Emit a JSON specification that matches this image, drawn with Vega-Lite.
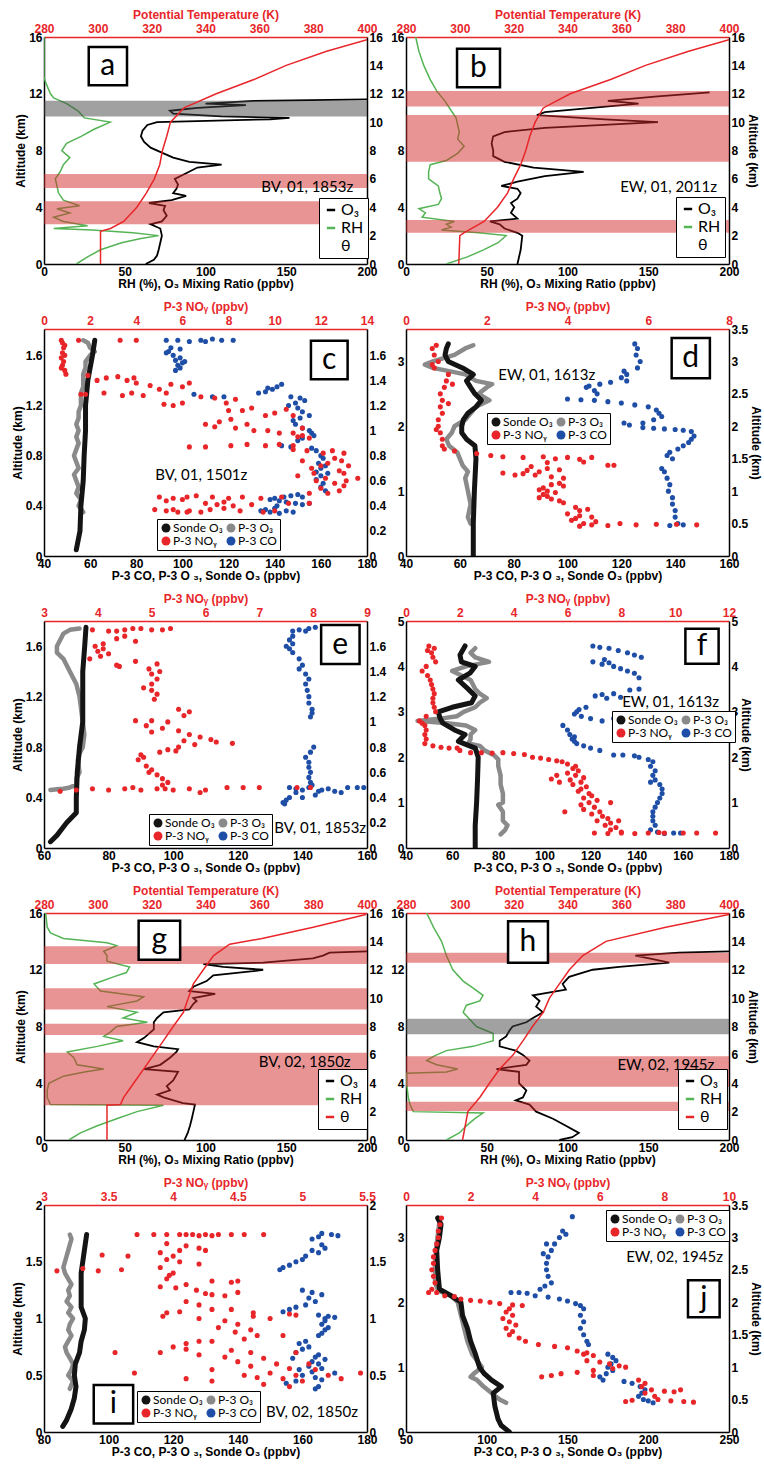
{
"$schema": "https://vega.github.io/schema/vega-lite/v6.json",
"background": "white",
"padding": {"left": 11, "top": 8, "right": 0, "bottom": 2},
"config": {
  "view": {"stroke": null},
  "axis": {"labelFont": "Liberation Sans", "labelFontWeight": "bold", "labelFontSize": 12, "labelColor": "#000", "titleFont": "Liberation Sans", "titleFontWeight": "bold", "titleFontSize": 12, "titleColor": "#000", "domainColor": "#000", "domainWidth": 1.5, "ticks": false, "grid": false, "labelPadding": 2, "titlePadding": 1, "labelFlush": false, "labelOverlap": false, "format": ".2~f"},
  "text": {"font": "Lato", "color": "#000"}
},
"columns": 2,
"spacing": {"row": 65, "column": 39},
"bounds": "flush",
"resolve": {"scale": {"color": "independent"}, "legend": {"color": "independent"}},
"concat": [
{"width": 323, "height": 227, "resolve": {"scale": {"x": "independent", "y": "independent"}},
 "layer": [
  {"layer": [
    {"data": {"values": [{"alt":0,"v":20},{"alt":0.5,"v":27},{"alt":1.0,"v":35},{"alt":1.5,"v":48},{"alt":1.8,"v":60},{"alt":2.0,"v":71},{"alt":2.2,"v":55},{"alt":2.4,"v":30},{"alt":2.5,"v":6},{"alt":2.7,"v":27},{"alt":3.0,"v":12},{"alt":3.3,"v":6},{"alt":3.6,"v":16},{"alt":3.9,"v":8},{"alt":4.1,"v":22},{"alt":4.5,"v":12},{"alt":5.0,"v":9},{"alt":5.5,"v":8},{"alt":6.0,"v":7},{"alt":6.5,"v":10},{"alt":7.0,"v":12},{"alt":7.5,"v":16},{"alt":8.0,"v":11},{"alt":8.5,"v":14},{"alt":9.0,"v":23},{"alt":9.5,"v":31},{"alt":10.0,"v":41},{"alt":10.3,"v":25},{"alt":10.8,"v":21},{"alt":11.3,"v":14},{"alt":11.7,"v":6},{"alt":12.0,"v":4},{"alt":12.8,"v":1},{"alt":13.2,"v":0},{"alt":16,"v":0}]},
     "mark": {"type": "line", "color": "#55b455", "strokeWidth": 1.5, "clip": true},
     "encoding": {"x": {"field": "v", "type": "quantitative", "scale": {"domain": [0,200], "nice": false, "zero": false}, "axis": {"title": "RH (%), O₃ Mixing Ratio (ppbv)", "values": [0,50,100,150,200]}},
                  "y": {"field": "alt", "type": "quantitative", "scale": {"domain": [0,16], "nice": false, "zero": false}, "axis": {"title": "Altitude (km)", "values": [0,2,4,6,8,10,12,14,16]}},
                  "order": {"field": "alt", "type": "quantitative"}}},
    {"data": {"values": [{"alt":0,"v":63},{"alt":0.3,"v":68},{"alt":0.6,"v":70},{"alt":1.0,"v":71},{"alt":1.5,"v":72},{"alt":2.0,"v":73},{"alt":2.5,"v":72},{"alt":2.8,"v":66},{"alt":3.0,"v":73},{"alt":3.4,"v":76},{"alt":3.8,"v":74},{"alt":4.1,"v":75},{"alt":4.3,"v":65},{"alt":4.5,"v":79},{"alt":4.8,"v":88},{"alt":5.0,"v":80},{"alt":5.3,"v":82},{"alt":5.6,"v":83},{"alt":6.0,"v":81},{"alt":6.4,"v":88},{"alt":6.8,"v":95},{"alt":7.0,"v":110},{"alt":7.2,"v":90},{"alt":7.5,"v":80},{"alt":7.8,"v":74},{"alt":8.2,"v":66},{"alt":8.6,"v":62},{"alt":9.0,"v":60},{"alt":9.4,"v":61},{"alt":9.8,"v":64},{"alt":10.0,"v":70},{"alt":10.2,"v":140},{"alt":10.3,"v":152},{"alt":10.4,"v":110},{"alt":10.6,"v":80},{"alt":10.8,"v":78},{"alt":11.0,"v":95},{"alt":11.2,"v":125},{"alt":11.3,"v":100},{"alt":11.5,"v":130},{"alt":11.6,"v":200}]},
     "mark": {"type": "line", "strokeWidth": 1.8, "clip": true},
     "encoding": {"x": {"field": "v", "type": "quantitative"}, "y": {"field": "alt", "type": "quantitative"}, "order": {"field": "alt", "type": "quantitative"},
                  "color": {"datum": "O₃", "scale": {"domain": ["O₃","RH","θ"], "range": ["#000000","#55b455","#ffffff"]},
                            "legend": {"title": null, "orient": "none", "legendX": 275, "legendY": 161, "symbolType": "stroke", "symbolSize": 70, "symbolStrokeWidth": 2.5, "labelFont": "Lato", "labelFontSize": 16, "labelColor": "#000", "strokeColor": "#000", "fillColor": "#fff", "padding": 4, "rowPadding": 2, "labelOffset": 2}}}},
    {"data": {"values": [{"alt":5.35,"top":6.35},{"alt":2.8,"top":4.42}]}, "mark": {"type": "rect", "color": "#d42a2a", "opacity": 0.5},
     "encoding": {"y": {"field": "alt", "type": "quantitative"}, "y2": {"field": "top"}}},
    {"data": {"values": [{"alt":10.4,"top":11.5}]}, "mark": {"type": "rect", "color": "#444444", "opacity": 0.5},
     "encoding": {"y": {"field": "alt", "type": "quantitative"}, "y2": {"field": "top"}}},
    {"data": {"values": [{"v":27.7,"v2":51.4,"alt":12.6,"top":15.3}]}, "mark": {"type": "rect", "fill": "white", "stroke": "black", "strokeWidth": 2.5},
     "encoding": {"x": {"field": "v", "type": "quantitative"}, "x2": {"field": "v2"}, "y": {"field": "alt", "type": "quantitative"}, "y2": {"field": "top"}}},
    {"data": {"values": [{"v":39.5,"alt":13.95,"t":"a"}]}, "mark": {"type": "text", "fontSize": 30, "baseline": "middle"},
     "encoding": {"x": {"field": "v", "type": "quantitative"}, "y": {"field": "alt", "type": "quantitative"}, "text": {"field": "t"}}},
    {"data": {"values": [{"v":163,"alt":5.4,"t":"BV, 01, 1853z"}]}, "mark": {"type": "text", "fontSize": 15, "baseline": "middle"},
     "encoding": {"x": {"field": "v", "type": "quantitative"}, "y": {"field": "alt", "type": "quantitative"}, "text": {"field": "t"}}}
  ]},
  {"data": {"values": [{"alt":0,"v":301},{"alt":2.3,"v":301},{"alt":2.5,"v":304.7},{"alt":3,"v":309.6},{"alt":4,"v":314.5},{"alt":5,"v":318},{"alt":6,"v":321},{"alt":7,"v":323},{"alt":8,"v":324},{"alt":9,"v":325.6},{"alt":10,"v":327},{"alt":11,"v":332},{"alt":12,"v":344},{"alt":13,"v":358},{"alt":14,"v":370},{"alt":15,"v":385},{"alt":15.8,"v":400}]},
   "mark": {"type": "line", "color": "#e8262a", "strokeWidth": 1.5, "clip": true},
   "encoding": {"x": {"field": "v", "type": "quantitative", "scale": {"domain": [280,400], "nice": false, "zero": false}, "axis": {"orient": "top", "title": "Potential Temperature (K)", "values": [280,300,320,340,360,380,400], "labelColor": "#e8262a", "titleColor": "#e8262a", "domainColor": "#e8262a"}},
                "y": {"field": "alt", "type": "quantitative", "scale": {"domain": [0,16], "nice": false, "zero": false}, "axis": {"orient": "right", "title": null, "values": [0,2,4,6,8,10,12,14,16]}},
                "order": {"field": "alt", "type": "quantitative"}}}
 ]},
{"width": 323, "height": 227, "resolve": {"scale": {"x": "independent", "y": "independent"}},
 "layer": [
  {"layer": [
    {"data": {"values": [{"alt":0,"v":25},{"alt":0.5,"v":38},{"alt":1,"v":48},{"alt":1.5,"v":57},{"alt":2,"v":62},{"alt":2.2,"v":45},{"alt":2.4,"v":22},{"alt":2.6,"v":28},{"alt":2.8,"v":25},{"alt":3.0,"v":30},{"alt":3.3,"v":10},{"alt":3.6,"v":12},{"alt":3.9,"v":8},{"alt":4.2,"v":20},{"alt":4.6,"v":22},{"alt":5.0,"v":21},{"alt":5.5,"v":20},{"alt":6.0,"v":14},{"alt":6.5,"v":14},{"alt":7.0,"v":15},{"alt":7.3,"v":25},{"alt":7.8,"v":32},{"alt":8.3,"v":36},{"alt":8.8,"v":32},{"alt":9.3,"v":33},{"alt":9.8,"v":32},{"alt":10.3,"v":31},{"alt":10.8,"v":28},{"alt":11.5,"v":24},{"alt":12.2,"v":19},{"alt":13,"v":15},{"alt":14,"v":11},{"alt":15,"v":8},{"alt":16,"v":6}]},
     "mark": {"type": "line", "color": "#55b455", "strokeWidth": 1.5, "clip": true},
     "encoding": {"x": {"field": "v", "type": "quantitative", "scale": {"domain": [0,200], "nice": false, "zero": false}, "axis": {"title": "RH (%), O₃ Mixing Ratio (ppbv)", "values": [0,50,100,150,200]}},
                  "y": {"field": "alt", "type": "quantitative", "scale": {"domain": [0,16], "nice": false, "zero": false}, "axis": {"title": null, "values": [0,2,4,6,8,10,12,14,16]}},
                  "order": {"field": "alt", "type": "quantitative"}}},
    {"data": {"values": [{"alt":0,"v":69},{"alt":1,"v":71},{"alt":2,"v":72},{"alt":2.2,"v":69},{"alt":2.5,"v":61},{"alt":2.8,"v":58},{"alt":3.0,"v":52},{"alt":3.2,"v":69},{"alt":3.6,"v":65},{"alt":4.0,"v":67},{"alt":4.3,"v":65},{"alt":4.6,"v":69},{"alt":5.0,"v":71},{"alt":5.3,"v":69},{"alt":5.5,"v":59},{"alt":5.8,"v":69},{"alt":6.2,"v":86},{"alt":6.5,"v":110},{"alt":6.8,"v":79},{"alt":7.2,"v":61},{"alt":7.6,"v":54},{"alt":8.0,"v":54},{"alt":8.5,"v":53},{"alt":9.0,"v":54},{"alt":9.3,"v":61},{"alt":9.6,"v":86},{"alt":10.0,"v":156},{"alt":10.2,"v":123},{"alt":10.5,"v":81},{"alt":10.7,"v":86},{"alt":11.0,"v":115},{"alt":11.3,"v":144},{"alt":11.5,"v":125},{"alt":11.8,"v":154},{"alt":12.1,"v":188}]},
     "mark": {"type": "line", "strokeWidth": 1.8, "clip": true},
     "encoding": {"x": {"field": "v", "type": "quantitative"}, "y": {"field": "alt", "type": "quantitative"}, "order": {"field": "alt", "type": "quantitative"},
                  "color": {"datum": "O₃", "scale": {"domain": ["O₃","RH","θ"], "range": ["#000000","#55b455","#ffffff"]},
                            "legend": {"title": null, "orient": "none", "legendX": 270, "legendY": 160, "symbolType": "stroke", "symbolSize": 70, "symbolStrokeWidth": 2.5, "labelFont": "Lato", "labelFontSize": 16, "labelColor": "#000", "strokeColor": "#000", "fillColor": "#fff", "padding": 4, "rowPadding": 2, "labelOffset": 2}}}},
    {"data": {"values": [{"alt":11.1,"top":12.2},{"alt":7.2,"top":10.5},{"alt":2.2,"top":3.1}]}, "mark": {"type": "rect", "color": "#d42a2a", "opacity": 0.5},
     "encoding": {"y": {"field": "alt", "type": "quantitative"}, "y2": {"field": "top"}}},
    {"data": {"values": [{"v":31.6,"v2":58.2,"alt":12.46,"top":15.18}]}, "mark": {"type": "rect", "fill": "white", "stroke": "black", "strokeWidth": 2.5},
     "encoding": {"x": {"field": "v", "type": "quantitative"}, "x2": {"field": "v2"}, "y": {"field": "alt", "type": "quantitative"}, "y2": {"field": "top"}}},
    {"data": {"values": [{"v":44.9,"alt":13.82,"t":"b"}]}, "mark": {"type": "text", "fontSize": 30, "baseline": "middle"},
     "encoding": {"x": {"field": "v", "type": "quantitative"}, "y": {"field": "alt", "type": "quantitative"}, "text": {"field": "t"}}},
    {"data": {"values": [{"v":162.6,"alt":5.4,"t":"EW, 01, 2011z"}]}, "mark": {"type": "text", "fontSize": 15, "baseline": "middle"},
     "encoding": {"x": {"field": "v", "type": "quantitative"}, "y": {"field": "alt", "type": "quantitative"}, "text": {"field": "t"}}}
  ]},
  {"data": {"values": [{"alt":0,"v":299.6},{"alt":2,"v":300},{"alt":2.2,"v":301.5},{"alt":3,"v":309},{"alt":4,"v":314},{"alt":5,"v":317.7},{"alt":6,"v":320},{"alt":7,"v":322.6},{"alt":8,"v":324.5},{"alt":9,"v":326},{"alt":10,"v":328},{"alt":11,"v":331},{"alt":12,"v":341},{"alt":13,"v":356},{"alt":14,"v":369},{"alt":15,"v":385},{"alt":15.8,"v":400}]},
   "mark": {"type": "line", "color": "#e8262a", "strokeWidth": 1.5, "clip": true},
   "encoding": {"x": {"field": "v", "type": "quantitative", "scale": {"domain": [280,400], "nice": false, "zero": false}, "axis": {"orient": "top", "title": "Potential Temperature (K)", "values": [280,300,320,340,360,380,400], "labelColor": "#e8262a", "titleColor": "#e8262a", "domainColor": "#e8262a"}},
                "y": {"field": "alt", "type": "quantitative", "scale": {"domain": [0,16], "nice": false, "zero": false}, "axis": {"orient": "right", "title": "Altitude (km)", "values": [0,2,4,6,8,10,12,14,16]}},
                "order": {"field": "alt", "type": "quantitative"}}}
 ]},
{"width": 323, "height": 227, "resolve": {"scale": {"x": "independent", "y": "independent"}},
 "layer": [
  {"layer": [
    {"data": {"values": [{"alt":1.72,"v":93},{"alt":1.72,"v":98},{"alt":1.71,"v":103},{"alt":1.72,"v":108},{"alt":1.73,"v":113},{"alt":1.72,"v":117},{"alt":1.72,"v":122},{"alt":1.71,"v":110},{"alt":1.66,"v":95},{"alt":1.63,"v":94},{"alt":1.6,"v":96},{"alt":1.58,"v":99},{"alt":1.56,"v":97},{"alt":1.54,"v":100},{"alt":1.52,"v":98},{"alt":1.5,"v":99},{"alt":1.48,"v":97},{"alt":1.62,"v":93},{"alt":1.55,"v":101},{"alt":1.65,"v":99},{"alt":1.29,"v":105},{"alt":1.27,"v":113},{"alt":1.27,"v":118},{"alt":1.37,"v":143},{"alt":1.35,"v":141},{"alt":1.33,"v":139},{"alt":1.31,"v":136},{"alt":1.3,"v":133},{"alt":1.34,"v":137},{"alt":1.27,"v":147},{"alt":1.26,"v":151},{"alt":1.24,"v":153},{"alt":1.22,"v":149},{"alt":1.2,"v":146},{"alt":1.18,"v":150},{"alt":1.15,"v":152},{"alt":1.12,"v":155},{"alt":1.1,"v":151},{"alt":1.08,"v":148},{"alt":1.05,"v":149},{"alt":1.02,"v":152},{"alt":1.0,"v":155},{"alt":0.98,"v":156},{"alt":0.96,"v":157},{"alt":0.94,"v":152},{"alt":0.92,"v":150},{"alt":0.88,"v":143},{"alt":0.87,"v":147},{"alt":0.86,"v":156},{"alt":0.84,"v":158},{"alt":0.8,"v":160},{"alt":0.78,"v":161},{"alt":0.74,"v":159},{"alt":0.7,"v":160},{"alt":0.67,"v":158},{"alt":0.64,"v":160},{"alt":0.61,"v":158},{"alt":0.58,"v":161},{"alt":0.55,"v":160},{"alt":0.52,"v":162},{"alt":0.72,"v":162},{"alt":0.66,"v":163},{"alt":0.49,"v":150},{"alt":0.48,"v":147},{"alt":0.47,"v":144},{"alt":0.46,"v":140},{"alt":0.45,"v":138},{"alt":0.44,"v":142},{"alt":0.47,"v":152},{"alt":0.43,"v":145},{"alt":0.42,"v":149},{"alt":0.41,"v":152},{"alt":0.42,"v":155},{"alt":0.4,"v":141},{"alt":0.37,"v":136},{"alt":0.36,"v":134},{"alt":0.35,"v":138},{"alt":0.34,"v":142},{"alt":0.36,"v":145},{"alt":0.35,"v":148},{"alt":0.38,"v":140}]},
     "mark": {"type": "circle", "size": 26, "opacity": 1, "clip": true},
     "encoding": {"x": {"field": "v", "type": "quantitative", "scale": {"domain": [40,180], "nice": false, "zero": false}, "axis": {"title": "P-3 CO, P-3 O ₃, Sonde O₃ (ppbv)", "values": [40,60,80,100,120,140,160,180]}},
                  "y": {"field": "alt", "type": "quantitative", "scale": {"domain": [0,1.81], "nice": false, "zero": false}, "axis": {"title": "Altitude (km)", "values": [0,0.2,0.4,0.6,0.8,1,1.2,1.4,1.6]}},
                  "color": {"datum": "P-3 CO", "scale": {"domain": ["Sonde O₃","P-3 NOᵧ","P-3 O₃","P-3 CO"], "range": ["#141414","#e8262a","#8a8a8a","#1f4ea6"]},
                            "legend": {"title": null, "orient": "none", "legendX": 113, "legendY": 190, "columns": 2, "symbolType": "circle", "symbolSize": 80, "symbolOpacity": 1, "labelFont": "Lato", "labelFontSize": 12, "labelColor": "#000", "strokeColor": "#000", "fillColor": "#fff", "padding": 3, "rowPadding": 1, "columnPadding": 2, "labelOffset": 1}}}},
    {"data": {"values": [{"alt":0.35,"v":57},{"alt":0.4,"v":55},{"alt":0.45,"v":56},{"alt":0.5,"v":54},{"alt":0.55,"v":55},{"alt":0.6,"v":54},{"alt":0.65,"v":53},{"alt":0.7,"v":55},{"alt":0.75,"v":54},{"alt":0.8,"v":53},{"alt":0.85,"v":54},{"alt":0.9,"v":55},{"alt":0.95,"v":54},{"alt":1.0,"v":55},{"alt":1.05,"v":54},{"alt":1.1,"v":55},{"alt":1.15,"v":55},{"alt":1.2,"v":56},{"alt":1.25,"v":56},{"alt":1.3,"v":56},{"alt":1.35,"v":57},{"alt":1.4,"v":57},{"alt":1.45,"v":57},{"alt":1.5,"v":58},{"alt":1.55,"v":58},{"alt":1.6,"v":60},{"alt":1.63,"v":62},{"alt":1.66,"v":60},{"alt":1.7,"v":59},{"alt":1.72,"v":57}]},
     "mark": {"type": "line", "color": "#8a8a8a", "strokeWidth": 4.5, "strokeCap": "round", "strokeJoin": "round", "clip": true},
     "encoding": {"x": {"field": "v", "type": "quantitative"}, "y": {"field": "alt", "type": "quantitative"}, "order": {"field": "alt", "type": "quantitative"}}},
    {"data": {"values": [{"alt":0.05,"v":54},{"alt":0.2,"v":55.6},{"alt":0.4,"v":56},{"alt":0.6,"v":57},{"alt":0.8,"v":57.4},{"alt":1.0,"v":58},{"alt":1.2,"v":58},{"alt":1.4,"v":59},{"alt":1.6,"v":61},{"alt":1.72,"v":62}]},
     "mark": {"type": "line", "color": "#141414", "strokeWidth": 5, "strokeCap": "round", "strokeJoin": "round", "clip": true},
     "encoding": {"x": {"field": "v", "type": "quantitative"}, "y": {"field": "alt", "type": "quantitative"}, "order": {"field": "alt", "type": "quantitative"}}},
    {"data": {"values": [{"v":155.7,"v2":171.6,"alt":1.41,"top":1.716}]}, "mark": {"type": "rect", "fill": "white", "stroke": "black", "strokeWidth": 2.5},
     "encoding": {"x": {"field": "v", "type": "quantitative"}, "x2": {"field": "v2"}, "y": {"field": "alt", "type": "quantitative"}, "y2": {"field": "top"}}},
    {"data": {"values": [{"v":163.6,"alt":1.563,"t":"c"}]}, "mark": {"type": "text", "fontSize": 30, "baseline": "middle"},
     "encoding": {"x": {"field": "v", "type": "quantitative"}, "y": {"field": "alt", "type": "quantitative"}, "text": {"field": "t"}}},
    {"data": {"values": [{"v":108.2,"alt":0.642,"t":"BV, 01, 1501z"}]}, "mark": {"type": "text", "fontSize": 15, "baseline": "middle"},
     "encoding": {"x": {"field": "v", "type": "quantitative"}, "y": {"field": "alt", "type": "quantitative"}, "text": {"field": "t"}}}
  ]},
  {"data": {"values": [{"alt":1.72,"v":0.75},{"alt":1.7,"v":0.8},{"alt":1.66,"v":0.85},{"alt":1.62,"v":0.8},{"alt":1.58,"v":0.75},{"alt":1.55,"v":0.85},{"alt":1.52,"v":0.8},{"alt":1.48,"v":0.9},{"alt":1.45,"v":0.95},{"alt":1.68,"v":0.9},{"alt":1.6,"v":0.9},{"alt":1.5,"v":0.75},{"alt":1.72,"v":1.5},{"alt":1.72,"v":3.3},{"alt":1.72,"v":4.0},{"alt":1.44,"v":1.9},{"alt":1.29,"v":1.6},{"alt":1.29,"v":1.8},{"alt":1.4,"v":2.3},{"alt":1.42,"v":2.7},{"alt":1.43,"v":3.2},{"alt":1.4,"v":3.6},{"alt":1.42,"v":3.9},{"alt":1.38,"v":4.0},{"alt":1.3,"v":2.6},{"alt":1.28,"v":3.4},{"alt":1.3,"v":3.8},{"alt":1.36,"v":4.6},{"alt":1.33,"v":5.0},{"alt":1.3,"v":5.3},{"alt":1.37,"v":5.5},{"alt":1.35,"v":6.0},{"alt":1.38,"v":6.3},{"alt":1.28,"v":4.3},{"alt":1.21,"v":5.2},{"alt":1.2,"v":5.6},{"alt":1.22,"v":6.0},{"alt":1.27,"v":6.8},{"alt":1.26,"v":7.4},{"alt":1.22,"v":7.9},{"alt":1.25,"v":8.3},{"alt":1.18,"v":9.0},{"alt":1.16,"v":8.0},{"alt":1.16,"v":8.6},{"alt":1.12,"v":9.6},{"alt":1.14,"v":10.0},{"alt":1.17,"v":10.5},{"alt":1.12,"v":10.8},{"alt":1.05,"v":7.0},{"alt":1.07,"v":7.6},{"alt":1.09,"v":8.1},{"alt":1.03,"v":7.4},{"alt":1.02,"v":8.3},{"alt":1.0,"v":9.1},{"alt":1.05,"v":8.8},{"alt":1.0,"v":9.7},{"alt":0.98,"v":10.2},{"alt":0.98,"v":10.8},{"alt":0.96,"v":11.2},{"alt":0.94,"v":11.5},{"alt":0.95,"v":11.0},{"alt":1.02,"v":11.2},{"alt":0.87,"v":6.3},{"alt":0.87,"v":7.0},{"alt":0.88,"v":8.1},{"alt":0.89,"v":8.8},{"alt":0.88,"v":9.6},{"alt":0.89,"v":10.2},{"alt":0.88,"v":10.8},{"alt":0.85,"v":10.8},{"alt":0.84,"v":11.4},{"alt":0.82,"v":12.1},{"alt":0.84,"v":12.5},{"alt":0.82,"v":13.0},{"alt":0.78,"v":12.6},{"alt":0.76,"v":11.2},{"alt":0.74,"v":12.3},{"alt":0.72,"v":13.2},{"alt":0.7,"v":11.6},{"alt":0.68,"v":12.8},{"alt":0.66,"v":13.0},{"alt":0.64,"v":11.0},{"alt":0.62,"v":12.2},{"alt":0.62,"v":13.6},{"alt":0.6,"v":11.8},{"alt":0.58,"v":12.6},{"alt":0.56,"v":13.0},{"alt":0.54,"v":12.0},{"alt":0.52,"v":12.8},{"alt":0.5,"v":11.5},{"alt":0.5,"v":12.3},{"alt":0.76,"v":12.9},{"alt":0.66,"v":11.7},{"alt":0.6,"v":13.1},{"alt":0.72,"v":12.0},{"alt":0.47,"v":5.0},{"alt":0.46,"v":5.6},{"alt":0.47,"v":6.2},{"alt":0.48,"v":6.6},{"alt":0.47,"v":7.3},{"alt":0.46,"v":8.0},{"alt":0.47,"v":8.6},{"alt":0.46,"v":9.4},{"alt":0.47,"v":10.3},{"alt":0.44,"v":5.3},{"alt":0.45,"v":6.0},{"alt":0.42,"v":7.0},{"alt":0.41,"v":7.5},{"alt":0.4,"v":8.2},{"alt":0.43,"v":7.8},{"alt":0.41,"v":9.0},{"alt":0.42,"v":10.6},{"alt":0.42,"v":11.5},{"alt":0.37,"v":4.8},{"alt":0.36,"v":5.3},{"alt":0.35,"v":5.8},{"alt":0.36,"v":6.3},{"alt":0.35,"v":6.8},{"alt":0.37,"v":7.2},{"alt":0.38,"v":7.8},{"alt":0.36,"v":8.5},{"alt":0.35,"v":9.5},{"alt":0.36,"v":10.0},{"alt":0.37,"v":5.6},{"alt":0.35,"v":6.2}]},
   "mark": {"type": "circle", "size": 26, "opacity": 1, "clip": true},
   "encoding": {"x": {"field": "v", "type": "quantitative", "scale": {"domain": [0,14], "nice": false, "zero": false}, "axis": {"orient": "top", "title": "P-3 NOᵧ (ppbv)", "values": [0,2,4,6,8,10,12,14], "labelColor": "#e8262a", "titleColor": "#e8262a", "domainColor": "#e8262a"}},
                "y": {"field": "alt", "type": "quantitative", "scale": {"domain": [0,1.81], "nice": false, "zero": false}, "axis": {"orient": "right", "title": null, "values": [0,0.2,0.4,0.6,0.8,1,1.2,1.4,1.6]}},
                "color": {"datum": "P-3 NOᵧ"}}}
 ]},
{"width": 323, "height": 227, "resolve": {"scale": {"x": "independent", "y": "independent"}},
 "layer": [
  {"layer": [
    {"data": {"values": [{"alt":3.27,"v":125},{"alt":3.2,"v":126},{"alt":3.1,"v":125.5},{"alt":3.0,"v":127},{"alt":2.9,"v":126},{"alt":2.85,"v":121},{"alt":2.8,"v":122},{"alt":2.75,"v":120},{"alt":2.7,"v":122},{"alt":2.68,"v":116},{"alt":2.65,"v":112},{"alt":2.62,"v":108},{"alt":2.6,"v":107},{"alt":2.55,"v":110},{"alt":2.5,"v":111},{"alt":2.42,"v":100},{"alt":2.41,"v":105},{"alt":2.4,"v":110},{"alt":2.38,"v":115},{"alt":2.36,"v":120},{"alt":2.33,"v":125},{"alt":2.3,"v":130},{"alt":2.25,"v":133},{"alt":2.2,"v":134},{"alt":2.15,"v":135},{"alt":2.1,"v":132},{"alt":2.05,"v":128},{"alt":2.02,"v":123},{"alt":2.05,"v":121},{"alt":1.98,"v":128},{"alt":1.97,"v":132},{"alt":1.96,"v":136},{"alt":1.95,"v":140},{"alt":1.94,"v":143},{"alt":1.92,"v":146},{"alt":1.85,"v":147},{"alt":1.8,"v":146},{"alt":1.75,"v":145},{"alt":1.7,"v":143},{"alt":1.65,"v":141},{"alt":1.6,"v":138},{"alt":1.55,"v":137},{"alt":1.5,"v":139},{"alt":1.35,"v":135},{"alt":1.3,"v":136},{"alt":1.2,"v":137},{"alt":1.1,"v":138},{"alt":1.0,"v":137.5},{"alt":0.9,"v":139},{"alt":0.8,"v":139},{"alt":0.7,"v":140},{"alt":0.6,"v":140},{"alt":0.5,"v":141},{"alt":0.48,"v":143},{"alt":0.47,"v":138}]},
     "mark": {"type": "circle", "size": 26, "opacity": 1, "clip": true},
     "encoding": {"x": {"field": "v", "type": "quantitative", "scale": {"domain": [40,160], "nice": false, "zero": false}, "axis": {"title": "P-3 CO, P-3 O ₃, Sonde O₃ (ppbv)", "values": [40,60,80,100,120,140,160]}},
                  "y": {"field": "alt", "type": "quantitative", "scale": {"domain": [0,3.5], "nice": false, "zero": false}, "axis": {"title": null, "values": [0,0.5,1,1.5,2,2.5,3,3.5]}},
                  "color": {"datum": "P-3 CO", "scale": {"domain": ["Sonde O₃","P-3 NOᵧ","P-3 O₃","P-3 CO"], "range": ["#141414","#e8262a","#8a8a8a","#1f4ea6"]},
                            "legend": {"title": null, "orient": "none", "legendX": 81, "legendY": 84, "columns": 2, "symbolType": "circle", "symbolSize": 80, "symbolOpacity": 1, "labelFont": "Lato", "labelFontSize": 12, "labelColor": "#000", "strokeColor": "#000", "fillColor": "#fff", "padding": 3, "rowPadding": 1, "columnPadding": 2, "labelOffset": 1}}}},
    {"data": {"values": [{"alt":0.5,"v":64},{"alt":0.6,"v":63},{"alt":0.8,"v":64},{"alt":1.0,"v":63},{"alt":1.1,"v":62.5},{"alt":1.2,"v":62},{"alt":1.3,"v":63},{"alt":1.4,"v":61},{"alt":1.5,"v":60},{"alt":1.6,"v":59},{"alt":1.7,"v":56},{"alt":1.8,"v":55},{"alt":1.9,"v":57},{"alt":2.0,"v":58},{"alt":2.1,"v":62},{"alt":2.2,"v":64},{"alt":2.3,"v":66},{"alt":2.4,"v":71},{"alt":2.5,"v":67},{"alt":2.6,"v":70},{"alt":2.65,"v":72},{"alt":2.7,"v":66},{"alt":2.8,"v":62},{"alt":2.9,"v":50},{"alt":2.95,"v":47},{"alt":3.0,"v":50},{"alt":3.1,"v":58},{"alt":3.2,"v":62},{"alt":3.25,"v":65}]},
     "mark": {"type": "line", "color": "#8a8a8a", "strokeWidth": 4.5, "strokeCap": "round", "strokeJoin": "round", "clip": true},
     "encoding": {"x": {"field": "v", "type": "quantitative"}, "y": {"field": "alt", "type": "quantitative"}, "order": {"field": "alt", "type": "quantitative"}}},
    {"data": {"values": [{"alt":0,"v":65},{"alt":0.5,"v":65},{"alt":1,"v":65.4},{"alt":1.5,"v":66},{"alt":1.7,"v":65.6},{"alt":1.8,"v":62.5},{"alt":1.9,"v":60.7},{"alt":2.0,"v":60.7},{"alt":2.1,"v":61.3},{"alt":2.2,"v":63},{"alt":2.3,"v":66},{"alt":2.4,"v":68},{"alt":2.5,"v":65.6},{"alt":2.6,"v":64},{"alt":2.7,"v":62.5},{"alt":2.8,"v":65},{"alt":2.9,"v":61},{"alt":3.0,"v":55.7},{"alt":3.1,"v":54.5},{"alt":3.2,"v":55},{"alt":3.27,"v":55.7}]},
     "mark": {"type": "line", "color": "#141414", "strokeWidth": 5, "strokeCap": "round", "strokeJoin": "round", "clip": true},
     "encoding": {"x": {"field": "v", "type": "quantitative"}, "y": {"field": "alt", "type": "quantitative"}, "order": {"field": "alt", "type": "quantitative"}}},
    {"data": {"values": [{"v":138.7,"v2":152.9,"alt":2.74,"top":3.36}]}, "mark": {"type": "rect", "fill": "white", "stroke": "black", "strokeWidth": 2.5},
     "encoding": {"x": {"field": "v", "type": "quantitative"}, "x2": {"field": "v2"}, "y": {"field": "alt", "type": "quantitative"}, "y2": {"field": "top"}}},
    {"data": {"values": [{"v":145.8,"alt":3.05,"t":"d"}]}, "mark": {"type": "text", "fontSize": 30, "baseline": "middle"},
     "encoding": {"x": {"field": "v", "type": "quantitative"}, "y": {"field": "alt", "type": "quantitative"}, "text": {"field": "t"}}},
    {"data": {"values": [{"v":92.3,"alt":2.79,"t":"EW, 01, 1613z"}]}, "mark": {"type": "text", "fontSize": 15, "baseline": "middle"},
     "encoding": {"x": {"field": "v", "type": "quantitative"}, "y": {"field": "alt", "type": "quantitative"}, "text": {"field": "t"}}}
  ]},
  {"data": {"values": [{"alt":3.25,"v":0.75},{"alt":3.2,"v":0.65},{"alt":3.1,"v":0.7},{"alt":3.0,"v":0.8},{"alt":2.95,"v":0.65},{"alt":2.9,"v":0.7},{"alt":2.8,"v":1.05},{"alt":2.7,"v":1.0},{"alt":2.6,"v":0.95},{"alt":2.5,"v":0.85},{"alt":2.4,"v":0.9},{"alt":2.3,"v":0.85},{"alt":2.2,"v":0.9},{"alt":2.1,"v":0.8},{"alt":2.0,"v":0.8},{"alt":1.9,"v":0.85},{"alt":1.8,"v":0.9},{"alt":1.7,"v":0.9},{"alt":1.65,"v":0.95},{"alt":2.65,"v":1.15},{"alt":2.35,"v":1.05},{"alt":1.95,"v":0.75},{"alt":1.62,"v":1.2},{"alt":1.58,"v":1.75},{"alt":1.55,"v":2.1},{"alt":1.53,"v":2.4},{"alt":1.52,"v":2.9},{"alt":1.53,"v":3.4},{"alt":1.5,"v":3.7},{"alt":1.52,"v":4.0},{"alt":1.49,"v":4.3},{"alt":1.52,"v":4.6},{"alt":1.44,"v":3.5},{"alt":1.4,"v":5.0},{"alt":1.4,"v":5.15},{"alt":1.45,"v":4.4},{"alt":1.38,"v":3.1},{"alt":1.35,"v":3.5},{"alt":1.32,"v":3.0},{"alt":1.3,"v":3.3},{"alt":1.28,"v":2.4},{"alt":1.25,"v":2.7},{"alt":1.25,"v":3.2},{"alt":1.22,"v":3.6},{"alt":1.33,"v":3.8},{"alt":1.2,"v":3.9},{"alt":1.27,"v":2.9},{"alt":1.12,"v":3.8},{"alt":1.1,"v":3.6},{"alt":1.05,"v":3.4},{"alt":1.02,"v":3.3},{"alt":1.0,"v":3.5},{"alt":0.98,"v":3.7},{"alt":0.95,"v":3.4},{"alt":0.92,"v":3.5},{"alt":0.88,"v":3.6},{"alt":0.85,"v":3.8},{"alt":0.82,"v":3.9},{"alt":1.08,"v":3.9},{"alt":0.9,"v":3.3},{"alt":0.75,"v":4.2},{"alt":0.72,"v":4.5},{"alt":0.7,"v":4.3},{"alt":0.65,"v":4.0},{"alt":0.62,"v":4.3},{"alt":0.6,"v":4.6},{"alt":0.58,"v":4.2},{"alt":0.55,"v":4.1},{"alt":0.53,"v":4.7},{"alt":0.5,"v":4.4},{"alt":0.48,"v":4.6},{"alt":0.47,"v":5.0},{"alt":0.46,"v":4.3},{"alt":0.5,"v":5.3},{"alt":0.48,"v":5.7},{"alt":0.49,"v":6.2},{"alt":0.49,"v":6.7},{"alt":0.48,"v":7.2}]},
   "mark": {"type": "circle", "size": 26, "opacity": 1, "clip": true},
   "encoding": {"x": {"field": "v", "type": "quantitative", "scale": {"domain": [0,8], "nice": false, "zero": false}, "axis": {"orient": "top", "title": "P-3 NOᵧ (ppbv)", "values": [0,2,4,6,8], "labelColor": "#e8262a", "titleColor": "#e8262a", "domainColor": "#e8262a"}},
                "y": {"field": "alt", "type": "quantitative", "scale": {"domain": [0,3.5], "nice": false, "zero": false}, "axis": {"orient": "right", "title": "Altitude (km)", "values": [0,0.5,1,1.5,2,2.5,3,3.5]}},
                "color": {"datum": "P-3 NOᵧ"}}}
 ]},
{"width": 323, "height": 227, "resolve": {"scale": {"x": "independent", "y": "independent"}},
 "layer": [
  {"layer": [
    {"data": {"values": [{"alt":1.75,"v":144},{"alt":1.74,"v":142},{"alt":1.73,"v":139},{"alt":1.72,"v":137},{"alt":1.72,"v":141},{"alt":1.68,"v":137},{"alt":1.65,"v":136},{"alt":1.62,"v":137},{"alt":1.58,"v":136},{"alt":1.55,"v":137},{"alt":1.5,"v":139},{"alt":1.45,"v":140},{"alt":1.42,"v":139},{"alt":1.38,"v":141},{"alt":1.34,"v":142},{"alt":1.3,"v":141},{"alt":1.25,"v":141.5},{"alt":1.2,"v":142},{"alt":1.15,"v":142},{"alt":1.1,"v":143},{"alt":1.07,"v":143},{"alt":1.04,"v":142.5},{"alt":1.6,"v":135},{"alt":0.8,"v":143.5},{"alt":0.76,"v":142.5},{"alt":0.72,"v":141},{"alt":0.68,"v":142},{"alt":0.64,"v":142},{"alt":0.6,"v":142.5},{"alt":0.56,"v":142},{"alt":0.52,"v":142.5},{"alt":0.5,"v":143},{"alt":0.48,"v":142},{"alt":0.46,"v":140},{"alt":0.45,"v":145},{"alt":0.44,"v":138},{"alt":0.42,"v":144},{"alt":0.4,"v":140},{"alt":0.48,"v":136},{"alt":0.47,"v":138},{"alt":0.46,"v":146},{"alt":0.47,"v":148},{"alt":0.45,"v":150},{"alt":0.44,"v":152},{"alt":0.48,"v":154},{"alt":0.48,"v":157},{"alt":0.48,"v":159},{"alt":0.38,"v":135},{"alt":0.36,"v":134},{"alt":0.35,"v":134.5},{"alt":0.4,"v":136}]},
     "mark": {"type": "circle", "size": 26, "opacity": 1, "clip": true},
     "encoding": {"x": {"field": "v", "type": "quantitative", "scale": {"domain": [60,160], "nice": false, "zero": false}, "axis": {"title": "P-3 CO, P-3 O ₃, Sonde O₃ (ppbv)", "values": [60,80,100,120,140,160]}},
                  "y": {"field": "alt", "type": "quantitative", "scale": {"domain": [0,1.8], "nice": false, "zero": false}, "axis": {"title": "Altitude (km)", "values": [0,0.2,0.4,0.6,0.8,1,1.2,1.4,1.6]}},
                  "color": {"datum": "P-3 CO", "scale": {"domain": ["Sonde O₃","P-3 NOᵧ","P-3 O₃","P-3 CO"], "range": ["#141414","#e8262a","#8a8a8a","#1f4ea6"]},
                            "legend": {"title": null, "orient": "none", "legendX": 105, "legendY": 193, "columns": 2, "symbolType": "circle", "symbolSize": 80, "symbolOpacity": 1, "labelFont": "Lato", "labelFontSize": 12, "labelColor": "#000", "strokeColor": "#000", "fillColor": "#fff", "padding": 3, "rowPadding": 1, "columnPadding": 2, "labelOffset": 1}}}},
    {"data": {"values": [{"alt":0.46,"v":62},{"alt":0.465,"v":64},{"alt":0.47,"v":66},{"alt":0.48,"v":68},{"alt":0.5,"v":70},{"alt":0.55,"v":70},{"alt":0.6,"v":71},{"alt":0.7,"v":70.5},{"alt":0.75,"v":71},{"alt":0.8,"v":72},{"alt":0.9,"v":72.5},{"alt":1.0,"v":72},{"alt":1.1,"v":71.5},{"alt":1.2,"v":71},{"alt":1.3,"v":70},{"alt":1.4,"v":68},{"alt":1.5,"v":66},{"alt":1.55,"v":64},{"alt":1.6,"v":64},{"alt":1.65,"v":65},{"alt":1.7,"v":66},{"alt":1.73,"v":68},{"alt":1.74,"v":71}]},
     "mark": {"type": "line", "color": "#8a8a8a", "strokeWidth": 4.5, "strokeCap": "round", "strokeJoin": "round", "clip": true},
     "encoding": {"x": {"field": "v", "type": "quantitative"}, "y": {"field": "alt", "type": "quantitative"}, "order": {"field": "alt", "type": "quantitative"}}},
    {"data": {"values": [{"alt":0.05,"v":62},{"alt":0.1,"v":64},{"alt":0.2,"v":67},{"alt":0.28,"v":70},{"alt":0.4,"v":70},{"alt":0.6,"v":70.3},{"alt":0.8,"v":71},{"alt":1.0,"v":72},{"alt":1.2,"v":72},{"alt":1.4,"v":72},{"alt":1.6,"v":72.6},{"alt":1.75,"v":73}]},
     "mark": {"type": "line", "color": "#141414", "strokeWidth": 5, "strokeCap": "round", "strokeJoin": "round", "clip": true},
     "encoding": {"x": {"field": "v", "type": "quantitative"}, "y": {"field": "alt", "type": "quantitative"}, "order": {"field": "alt", "type": "quantitative"}}},
    {"data": {"values": [{"v":145.8,"v2":157.7,"alt":1.459,"top":1.768}]}, "mark": {"type": "rect", "fill": "white", "stroke": "black", "strokeWidth": 2.5},
     "encoding": {"x": {"field": "v", "type": "quantitative"}, "x2": {"field": "v2"}, "y": {"field": "alt", "type": "quantitative"}, "y2": {"field": "top"}}},
    {"data": {"values": [{"v":151.7,"alt":1.61,"t":"e"}]}, "mark": {"type": "text", "fontSize": 30, "baseline": "middle"},
     "encoding": {"x": {"field": "v", "type": "quantitative"}, "y": {"field": "alt", "type": "quantitative"}, "text": {"field": "t"}}},
    {"data": {"values": [{"v":145.5,"alt":0.158,"t":"BV, 01, 1853z"}]}, "mark": {"type": "text", "fontSize": 15, "baseline": "middle"},
     "encoding": {"x": {"field": "v", "type": "quantitative"}, "y": {"field": "alt", "type": "quantitative"}, "text": {"field": "t"}}}
  ]},
  {"data": {"values": [{"alt":1.73,"v":3.9},{"alt":1.72,"v":4.2},{"alt":1.73,"v":4.5},{"alt":1.74,"v":4.8},{"alt":1.73,"v":5.0},{"alt":1.73,"v":5.2},{"alt":1.74,"v":5.35},{"alt":1.72,"v":4.35},{"alt":1.74,"v":4.65},{"alt":1.68,"v":4.5},{"alt":1.66,"v":4.35},{"alt":1.62,"v":4.1},{"alt":1.6,"v":3.95},{"alt":1.58,"v":4.1},{"alt":1.56,"v":4.0},{"alt":1.54,"v":4.2},{"alt":1.52,"v":4.05},{"alt":1.5,"v":3.85},{"alt":1.64,"v":4.7},{"alt":1.45,"v":4.35},{"alt":1.44,"v":4.4},{"alt":1.48,"v":4.7},{"alt":1.46,"v":5.1},{"alt":1.42,"v":4.95},{"alt":1.38,"v":5.0},{"alt":1.34,"v":5.1},{"alt":1.3,"v":5.0},{"alt":1.27,"v":4.85},{"alt":1.25,"v":5.0},{"alt":1.22,"v":5.1},{"alt":1.18,"v":5.05},{"alt":1.4,"v":5.15},{"alt":1.1,"v":5.5},{"alt":1.08,"v":5.7},{"alt":1.05,"v":5.6},{"alt":1.01,"v":4.7},{"alt":1.01,"v":5.0},{"alt":1.0,"v":5.3},{"alt":0.97,"v":4.9},{"alt":0.95,"v":5.2},{"alt":0.93,"v":5.5},{"alt":0.9,"v":5.7},{"alt":0.88,"v":5.9},{"alt":0.86,"v":6.1},{"alt":0.85,"v":5.6},{"alt":0.92,"v":5.0},{"alt":0.84,"v":6.2},{"alt":0.82,"v":5.8},{"alt":0.8,"v":5.5},{"alt":0.78,"v":5.3},{"alt":0.76,"v":5.15},{"alt":0.74,"v":4.8},{"alt":0.72,"v":4.85},{"alt":0.7,"v":4.75},{"alt":0.83,"v":6.5},{"alt":0.77,"v":5.45},{"alt":0.65,"v":4.9},{"alt":0.62,"v":5.0},{"alt":0.58,"v":5.1},{"alt":0.55,"v":5.2},{"alt":0.52,"v":5.3},{"alt":0.5,"v":5.2},{"alt":0.6,"v":4.95},{"alt":0.45,"v":3.3},{"alt":0.46,"v":3.6},{"alt":0.47,"v":3.9},{"alt":0.46,"v":4.2},{"alt":0.47,"v":4.5},{"alt":0.46,"v":4.8},{"alt":0.47,"v":5.1},{"alt":0.46,"v":5.4},{"alt":0.47,"v":5.7},{"alt":0.46,"v":6.0},{"alt":0.44,"v":5.9},{"alt":0.48,"v":6.4},{"alt":0.48,"v":6.7},{"alt":0.48,"v":7.0},{"alt":0.47,"v":5.25},{"alt":0.48,"v":4.65},{"alt":0.48,"v":7.7},{"alt":0.48,"v":7.95}]},
   "mark": {"type": "circle", "size": 26, "opacity": 1, "clip": true},
   "encoding": {"x": {"field": "v", "type": "quantitative", "scale": {"domain": [3,9], "nice": false, "zero": false}, "axis": {"orient": "top", "title": "P-3 NOᵧ (ppbv)", "values": [3,4,5,6,7,8,9], "labelColor": "#e8262a", "titleColor": "#e8262a", "domainColor": "#e8262a"}},
                "y": {"field": "alt", "type": "quantitative", "scale": {"domain": [0,1.8], "nice": false, "zero": false}, "axis": {"orient": "right", "title": null, "values": [0,0.2,0.4,0.6,0.8,1,1.2,1.4,1.6]}},
                "color": {"datum": "P-3 NOᵧ"}}}
 ]},
{"width": 323, "height": 227, "resolve": {"scale": {"x": "independent", "y": "independent"}},
 "layer": [
  {"layer": [
    {"data": {"values": [{"alt":4.45,"v":121},{"alt":4.42,"v":124},{"alt":4.4,"v":128},{"alt":4.35,"v":132},{"alt":4.3,"v":136},{"alt":4.25,"v":139},{"alt":4.2,"v":142},{"alt":4.15,"v":126},{"alt":4.1,"v":121},{"alt":4.05,"v":125},{"alt":4.0,"v":130},{"alt":3.95,"v":133},{"alt":3.9,"v":136},{"alt":3.85,"v":139},{"alt":3.75,"v":141},{"alt":4.08,"v":128},{"alt":3.5,"v":141},{"alt":3.48,"v":137},{"alt":3.4,"v":130},{"alt":3.38,"v":125},{"alt":3.35,"v":122},{"alt":3.3,"v":127},{"alt":3.32,"v":133},{"alt":3.1,"v":118},{"alt":3.05,"v":115},{"alt":3.0,"v":114},{"alt":2.95,"v":113},{"alt":2.9,"v":116},{"alt":2.85,"v":120},{"alt":2.8,"v":125},{"alt":2.85,"v":130},{"alt":2.82,"v":134},{"alt":2.78,"v":131},{"alt":2.7,"v":108},{"alt":2.6,"v":110},{"alt":2.5,"v":111},{"alt":2.45,"v":113},{"alt":2.4,"v":112},{"alt":2.35,"v":113},{"alt":2.3,"v":114},{"alt":2.25,"v":117},{"alt":2.2,"v":120},{"alt":2.15,"v":124},{"alt":2.05,"v":130},{"alt":2.05,"v":134},{"alt":2.03,"v":139},{"alt":2.0,"v":141},{"alt":1.95,"v":145},{"alt":1.9,"v":147},{"alt":1.8,"v":146},{"alt":1.7,"v":148},{"alt":1.6,"v":147},{"alt":1.5,"v":148},{"alt":1.45,"v":146},{"alt":1.4,"v":150},{"alt":1.3,"v":151},{"alt":1.2,"v":151},{"alt":1.1,"v":150},{"alt":1.0,"v":149},{"alt":0.9,"v":148},{"alt":0.8,"v":147},{"alt":0.7,"v":147},{"alt":0.6,"v":147},{"alt":0.5,"v":148},{"alt":0.4,"v":146},{"alt":0.35,"v":149},{"alt":0.32,"v":152},{"alt":0.33,"v":156},{"alt":0.33,"v":159}]},
     "mark": {"type": "circle", "size": 26, "opacity": 1, "clip": true},
     "encoding": {"x": {"field": "v", "type": "quantitative", "scale": {"domain": [40,180], "nice": false, "zero": false}, "axis": {"title": "P-3 CO, P-3 O ₃, Sonde O₃ (ppbv)", "values": [40,60,80,100,120,140,160,180]}},
                  "y": {"field": "alt", "type": "quantitative", "scale": {"domain": [0,5], "nice": false, "zero": false}, "axis": {"title": null, "values": [0,1,2,3,4,5]}},
                  "color": {"datum": "P-3 CO", "scale": {"domain": ["Sonde O₃","P-3 NOᵧ","P-3 O₃","P-3 CO"], "range": ["#141414","#e8262a","#8a8a8a","#1f4ea6"]},
                            "legend": {"title": null, "orient": "none", "legendX": 206, "legendY": 90, "columns": 2, "symbolType": "circle", "symbolSize": 80, "symbolOpacity": 1, "labelFont": "Lato", "labelFontSize": 12, "labelColor": "#000", "strokeColor": "#000", "fillColor": "#fff", "padding": 3, "rowPadding": 1, "columnPadding": 2, "labelOffset": 1}}}},
    {"data": {"values": [{"alt":0.3,"v":81},{"alt":0.4,"v":83},{"alt":0.5,"v":84},{"alt":0.6,"v":82},{"alt":0.8,"v":82},{"alt":0.95,"v":80},{"alt":1.0,"v":82},{"alt":1.2,"v":82},{"alt":1.4,"v":81},{"alt":1.6,"v":81},{"alt":1.8,"v":80},{"alt":1.95,"v":80},{"alt":2.05,"v":78},{"alt":2.15,"v":74},{"alt":2.25,"v":72},{"alt":2.3,"v":67},{"alt":2.4,"v":68},{"alt":2.5,"v":68},{"alt":2.6,"v":70},{"alt":2.7,"v":66},{"alt":2.75,"v":58},{"alt":2.8,"v":45},{"alt":2.85,"v":55},{"alt":2.9,"v":62},{"alt":3.0,"v":65},{"alt":3.1,"v":70},{"alt":3.2,"v":72},{"alt":3.3,"v":75},{"alt":3.4,"v":72},{"alt":3.5,"v":70},{"alt":3.7,"v":68},{"alt":3.9,"v":60},{"alt":4.0,"v":66},{"alt":4.1,"v":76},{"alt":4.2,"v":70},{"alt":4.3,"v":68},{"alt":4.4,"v":70}]},
     "mark": {"type": "line", "color": "#8a8a8a", "strokeWidth": 4.5, "strokeCap": "round", "strokeJoin": "round", "clip": true},
     "encoding": {"x": {"field": "v", "type": "quantitative"}, "y": {"field": "alt", "type": "quantitative"}, "order": {"field": "alt", "type": "quantitative"}}},
    {"data": {"values": [{"alt":0,"v":70},{"alt":0.5,"v":70},{"alt":1,"v":70.6},{"alt":1.5,"v":71},{"alt":2,"v":71.3},{"alt":2.2,"v":70},{"alt":2.35,"v":62.7},{"alt":2.5,"v":65.6},{"alt":2.6,"v":61},{"alt":2.75,"v":56},{"alt":2.85,"v":54.8},{"alt":3.0,"v":54},{"alt":3.1,"v":60},{"alt":3.2,"v":68.4},{"alt":3.35,"v":70},{"alt":3.5,"v":67},{"alt":3.7,"v":62.7},{"alt":3.85,"v":67.7},{"alt":4.0,"v":70},{"alt":4.1,"v":64},{"alt":4.25,"v":63.4},{"alt":4.45,"v":65.6}]},
     "mark": {"type": "line", "color": "#141414", "strokeWidth": 5, "strokeCap": "round", "strokeJoin": "round", "clip": true},
     "encoding": {"x": {"field": "v", "type": "quantitative"}, "y": {"field": "alt", "type": "quantitative"}, "order": {"field": "alt", "type": "quantitative"}}},
    {"data": {"values": [{"v":161.1,"v2":175.5,"alt":4.06,"top":4.83}]}, "mark": {"type": "rect", "fill": "white", "stroke": "black", "strokeWidth": 2.5},
     "encoding": {"x": {"field": "v", "type": "quantitative"}, "x2": {"field": "v2"}, "y": {"field": "alt", "type": "quantitative"}, "y2": {"field": "top"}}},
    {"data": {"values": [{"v":168.3,"alt":4.445,"t":"f"}]}, "mark": {"type": "text", "fontSize": 30, "baseline": "middle"},
     "encoding": {"x": {"field": "v", "type": "quantitative"}, "y": {"field": "alt", "type": "quantitative"}, "text": {"field": "t"}}},
    {"data": {"values": [{"v":154.7,"alt":3.21,"t":"EW, 01, 1613z"}]}, "mark": {"type": "text", "fontSize": 15, "baseline": "middle"},
     "encoding": {"x": {"field": "v", "type": "quantitative"}, "y": {"field": "alt", "type": "quantitative"}, "text": {"field": "t"}}}
  ]},
  {"data": {"values": [{"alt":4.45,"v":0.85},{"alt":4.4,"v":1.05},{"alt":4.35,"v":0.8},{"alt":4.3,"v":0.95},{"alt":4.2,"v":1.0},{"alt":4.1,"v":1.1},{"alt":4.0,"v":0.75},{"alt":3.9,"v":0.6},{"alt":3.8,"v":0.8},{"alt":3.7,"v":0.9},{"alt":3.6,"v":0.95},{"alt":3.5,"v":1.0},{"alt":3.4,"v":1.05},{"alt":3.3,"v":1.0},{"alt":3.2,"v":1.0},{"alt":3.1,"v":1.05},{"alt":3.0,"v":1.1},{"alt":2.9,"v":0.75},{"alt":2.8,"v":0.5},{"alt":2.75,"v":0.6},{"alt":2.7,"v":0.7},{"alt":2.6,"v":0.75},{"alt":2.5,"v":0.7},{"alt":2.4,"v":0.75},{"alt":2.3,"v":0.7},{"alt":2.25,"v":1.0},{"alt":2.22,"v":1.3},{"alt":2.2,"v":1.6},{"alt":2.2,"v":1.9},{"alt":2.15,"v":2.0},{"alt":2.1,"v":2.4},{"alt":2.1,"v":2.8},{"alt":2.09,"v":3.2},{"alt":2.1,"v":3.6},{"alt":2.08,"v":4.0},{"alt":2.06,"v":4.4},{"alt":2.0,"v":4.7},{"alt":1.98,"v":5.0},{"alt":1.95,"v":5.3},{"alt":1.92,"v":5.6},{"alt":1.9,"v":5.8},{"alt":1.85,"v":6.0},{"alt":1.8,"v":6.3},{"alt":1.75,"v":6.2},{"alt":1.7,"v":6.4},{"alt":1.65,"v":6.0},{"alt":1.6,"v":6.3},{"alt":1.55,"v":6.6},{"alt":1.5,"v":6.1},{"alt":1.45,"v":5.7},{"alt":1.4,"v":6.2},{"alt":1.35,"v":6.7},{"alt":1.3,"v":6.5},{"alt":1.25,"v":6.4},{"alt":1.2,"v":6.8},{"alt":1.6,"v":5.6},{"alt":1.45,"v":6.5},{"alt":1.52,"v":5.4},{"alt":1.15,"v":6.9},{"alt":1.1,"v":6.6},{"alt":1.05,"v":7.1},{"alt":1.0,"v":6.8},{"alt":0.95,"v":6.5},{"alt":0.9,"v":7.0},{"alt":0.85,"v":6.6},{"alt":0.8,"v":7.2},{"alt":0.75,"v":6.9},{"alt":0.7,"v":7.3},{"alt":0.65,"v":7.5},{"alt":0.6,"v":7.1},{"alt":0.55,"v":7.6},{"alt":0.5,"v":7.4},{"alt":0.45,"v":7.8},{"alt":0.4,"v":7.6},{"alt":0.35,"v":8.0},{"alt":0.8,"v":5.9},{"alt":1.0,"v":7.6},{"alt":0.6,"v":7.9},{"alt":0.33,"v":7.0},{"alt":0.32,"v":7.5},{"alt":0.33,"v":8.0},{"alt":0.32,"v":8.5},{"alt":0.33,"v":9.0},{"alt":0.34,"v":9.4},{"alt":0.33,"v":9.6},{"alt":0.33,"v":10.3},{"alt":0.33,"v":10.8},{"alt":0.33,"v":11.5}]},
   "mark": {"type": "circle", "size": 26, "opacity": 1, "clip": true},
   "encoding": {"x": {"field": "v", "type": "quantitative", "scale": {"domain": [0,12], "nice": false, "zero": false}, "axis": {"orient": "top", "title": "P-3 NOᵧ (ppbv)", "values": [0,2,4,6,8,10,12], "labelColor": "#e8262a", "titleColor": "#e8262a", "domainColor": "#e8262a"}},
                "y": {"field": "alt", "type": "quantitative", "scale": {"domain": [0,5], "nice": false, "zero": false}, "axis": {"orient": "right", "title": "Altitude (km)", "values": [0,1,2,3,4,5]}},
                "color": {"datum": "P-3 NOᵧ"}}}
 ]},
{"width": 323, "height": 227, "resolve": {"scale": {"x": "independent", "y": "independent"}},
 "layer": [
  {"layer": [
    {"data": {"values": [{"alt":0,"v":15.4},{"alt":0.5,"v":22.6},{"alt":1,"v":33},{"alt":1.5,"v":45},{"alt":2,"v":57.6},{"alt":2.45,"v":74},{"alt":2.5,"v":4},{"alt":3.0,"v":2},{"alt":3.5,"v":2},{"alt":4.0,"v":3},{"alt":4.5,"v":12},{"alt":4.8,"v":25},{"alt":5.0,"v":37},{"alt":5.3,"v":20.5},{"alt":5.8,"v":18.5},{"alt":6.2,"v":14.4},{"alt":6.6,"v":33},{"alt":7.0,"v":49},{"alt":7.3,"v":37},{"alt":7.6,"v":41},{"alt":8.0,"v":45},{"alt":8.3,"v":64},{"alt":8.6,"v":49},{"alt":9.0,"v":57.6},{"alt":9.4,"v":39},{"alt":9.8,"v":57.6},{"alt":10.1,"v":61.7},{"alt":10.5,"v":35},{"alt":11.0,"v":31},{"alt":11.5,"v":43},{"alt":11.8,"v":51},{"alt":12.2,"v":53},{"alt":12.6,"v":39},{"alt":13.0,"v":39},{"alt":13.3,"v":37},{"alt":13.7,"v":45},{"alt":13.9,"v":39},{"alt":14.2,"v":12},{"alt":14.6,"v":4},{"alt":15,"v":2},{"alt":16,"v":1}]},
     "mark": {"type": "line", "color": "#55b455", "strokeWidth": 1.5, "clip": true},
     "encoding": {"x": {"field": "v", "type": "quantitative", "scale": {"domain": [0,200], "nice": false, "zero": false}, "axis": {"title": "RH (%), O₃ Mixing Ratio (ppbv)", "values": [0,50,100,150,200]}},
                  "y": {"field": "alt", "type": "quantitative", "scale": {"domain": [0,16], "nice": false, "zero": false}, "axis": {"title": "Altitude (km)", "values": [0,2,4,6,8,10,12,14,16]}},
                  "order": {"field": "alt", "type": "quantitative"}}},
    {"data": {"values": [{"alt":0,"v":87},{"alt":0.5,"v":89},{"alt":1,"v":90.4},{"alt":1.5,"v":91.5},{"alt":2,"v":92.5},{"alt":2.5,"v":93.5},{"alt":2.6,"v":86},{"alt":3.0,"v":74},{"alt":3.2,"v":70},{"alt":3.5,"v":78},{"alt":3.8,"v":76},{"alt":4.2,"v":80},{"alt":4.6,"v":82},{"alt":4.8,"v":83},{"alt":5.0,"v":62},{"alt":5.3,"v":72},{"alt":5.8,"v":78},{"alt":6.2,"v":82},{"alt":6.4,"v":83},{"alt":6.6,"v":68},{"alt":6.9,"v":57.6},{"alt":7.2,"v":62},{"alt":7.8,"v":68},{"alt":8.3,"v":68},{"alt":8.6,"v":70},{"alt":9.0,"v":74},{"alt":9.2,"v":90},{"alt":9.6,"v":92.5},{"alt":9.8,"v":94.5},{"alt":10.0,"v":92.5},{"alt":10.3,"v":106},{"alt":10.5,"v":90},{"alt":10.8,"v":92.5},{"alt":11.2,"v":100.7},{"alt":11.6,"v":104.8},{"alt":11.9,"v":129.5},{"alt":12.0,"v":135.7},{"alt":12.2,"v":111},{"alt":12.4,"v":98.7},{"alt":12.5,"v":135.7},{"alt":12.8,"v":166.5},{"alt":13.0,"v":172.7},{"alt":13.2,"v":176.8},{"alt":13.3,"v":200}]},
     "mark": {"type": "line", "strokeWidth": 1.8, "clip": true},
     "encoding": {"x": {"field": "v", "type": "quantitative"}, "y": {"field": "alt", "type": "quantitative"}, "order": {"field": "alt", "type": "quantitative"},
                  "color": {"datum": "O₃", "scale": {"domain": ["O₃","RH","θ"], "range": ["#000000","#55b455","#e8262a"]},
                            "legend": {"title": null, "orient": "none", "legendX": 274, "legendY": 156, "symbolType": "stroke", "symbolSize": 70, "symbolStrokeWidth": 2.5, "labelFont": "Lato", "labelFontSize": 16, "labelColor": "#000", "strokeColor": "#000", "fillColor": "#fff", "padding": 4, "rowPadding": 2, "labelOffset": 2}}}},
    {"data": {"values": [{"alt":12.4,"top":13.65},{"alt":9.2,"top":10.7},{"alt":7.4,"top":8.2},{"alt":2.45,"top":6.15}]}, "mark": {"type": "rect", "color": "#d42a2a", "opacity": 0.5},
     "encoding": {"y": {"field": "alt", "type": "quantitative"}, "y2": {"field": "top"}}},
    {"data": {"values": [{"v":58.6,"v2":84.3,"alt":12.7,"top":15.46}]}, "mark": {"type": "rect", "fill": "white", "stroke": "black", "strokeWidth": 2.5},
     "encoding": {"x": {"field": "v", "type": "quantitative"}, "x2": {"field": "v2"}, "y": {"field": "alt", "type": "quantitative"}, "y2": {"field": "top"}}},
    {"data": {"values": [{"v":71.4,"alt":14.08,"t":"g"}]}, "mark": {"type": "text", "fontSize": 30, "baseline": "middle"},
     "encoding": {"x": {"field": "v", "type": "quantitative"}, "y": {"field": "alt", "type": "quantitative"}, "text": {"field": "t"}}},
    {"data": {"values": [{"v":161.4,"alt":5.48,"t":"BV, 02, 1850z"}]}, "mark": {"type": "text", "fontSize": 15, "baseline": "middle"},
     "encoding": {"x": {"field": "v", "type": "quantitative"}, "y": {"field": "alt", "type": "quantitative"}, "text": {"field": "t"}}}
  ]},
  {"data": {"values": [{"alt":0,"v":303.4},{"alt":2.45,"v":303.4},{"alt":2.5,"v":308.4},{"alt":3,"v":309.6},{"alt":4,"v":313.3},{"alt":5,"v":317},{"alt":6,"v":320.7},{"alt":7,"v":324.4},{"alt":8,"v":328},{"alt":9,"v":331.8},{"alt":10,"v":333.6},{"alt":11,"v":335.5},{"alt":12,"v":339.2},{"alt":13,"v":343},{"alt":13.8,"v":349},{"alt":14.2,"v":361},{"alt":15,"v":380},{"alt":15.9,"v":399.6}]},
   "mark": {"type": "line", "color": "#e8262a", "strokeWidth": 1.5, "clip": true},
   "encoding": {"x": {"field": "v", "type": "quantitative", "scale": {"domain": [280,400], "nice": false, "zero": false}, "axis": {"orient": "top", "title": "Potential Temperature (K)", "values": [280,300,320,340,360,380,400], "labelColor": "#e8262a", "titleColor": "#e8262a", "domainColor": "#e8262a"}},
                "y": {"field": "alt", "type": "quantitative", "scale": {"domain": [0,16], "nice": false, "zero": false}, "axis": {"orient": "right", "title": null, "values": [0,2,4,6,8,10,12,14,16]}},
                "order": {"field": "alt", "type": "quantitative"}}}
 ]},
{"width": 323, "height": 227, "resolve": {"scale": {"x": "independent", "y": "independent"}},
 "layer": [
  {"layer": [
    {"data": {"values": [{"alt":0,"v":25},{"alt":0.5,"v":33},{"alt":1,"v":37.4},{"alt":1.5,"v":42.6},{"alt":1.9,"v":47.7},{"alt":2.0,"v":4.5},{"alt":2.5,"v":2.5},{"alt":3,"v":1.4},{"alt":4,"v":0.4},{"alt":4.7,"v":0.4},{"alt":4.8,"v":25},{"alt":5.0,"v":32},{"alt":5.3,"v":19},{"alt":5.6,"v":12.8},{"alt":5.9,"v":17},{"alt":6.3,"v":25},{"alt":6.6,"v":41.6},{"alt":7.0,"v":54},{"alt":7.5,"v":54},{"alt":8.0,"v":43.6},{"alt":8.5,"v":39.5},{"alt":9.0,"v":35.4},{"alt":9.5,"v":37.4},{"alt":9.8,"v":45.7},{"alt":10.2,"v":47.7},{"alt":10.7,"v":41.6},{"alt":11.2,"v":35.4},{"alt":12,"v":29},{"alt":13,"v":25},{"alt":14,"v":22},{"alt":15,"v":17},{"alt":16,"v":12.8}]},
     "mark": {"type": "line", "color": "#55b455", "strokeWidth": 1.5, "clip": true},
     "encoding": {"x": {"field": "v", "type": "quantitative", "scale": {"domain": [0,200], "nice": false, "zero": false}, "axis": {"title": "RH (%), O₃ Mixing Ratio (ppbv)", "values": [0,50,100,150,200]}},
                  "y": {"field": "alt", "type": "quantitative", "scale": {"domain": [0,16], "nice": false, "zero": false}, "axis": {"title": null, "values": [0,2,4,6,8,10,12,14,16]}},
                  "order": {"field": "alt", "type": "quantitative"}}},
    {"data": {"values": [{"alt":0,"v":95},{"alt":0.2,"v":103},{"alt":0.5,"v":107},{"alt":1.0,"v":99},{"alt":1.5,"v":91},{"alt":2.0,"v":80.6},{"alt":2.5,"v":76.5},{"alt":2.8,"v":68},{"alt":3.0,"v":72.4},{"alt":3.5,"v":74.5},{"alt":4.0,"v":70},{"alt":4.5,"v":70},{"alt":4.8,"v":70},{"alt":5.0,"v":56},{"alt":5.3,"v":74.5},{"alt":5.6,"v":76.5},{"alt":6.0,"v":72.4},{"alt":6.3,"v":68},{"alt":6.6,"v":58},{"alt":7.0,"v":58},{"alt":7.3,"v":62},{"alt":7.7,"v":64},{"alt":8.0,"v":66},{"alt":8.3,"v":74.5},{"alt":8.6,"v":78.6},{"alt":9.0,"v":84.8},{"alt":9.4,"v":80.6},{"alt":9.8,"v":82.7},{"alt":10.2,"v":78.6},{"alt":10.6,"v":99},{"alt":11.0,"v":97},{"alt":11.5,"v":101},{"alt":12.0,"v":115.6},{"alt":12.2,"v":132},{"alt":12.5,"v":163},{"alt":12.8,"v":150.6},{"alt":13.0,"v":142},{"alt":13.2,"v":169},{"alt":13.3,"v":200}]},
     "mark": {"type": "line", "strokeWidth": 1.8, "clip": true},
     "encoding": {"x": {"field": "v", "type": "quantitative"}, "y": {"field": "alt", "type": "quantitative"}, "order": {"field": "alt", "type": "quantitative"},
                  "color": {"datum": "O₃", "scale": {"domain": ["O₃","RH","θ"], "range": ["#000000","#55b455","#e8262a"]},
                            "legend": {"title": null, "orient": "none", "legendX": 272, "legendY": 156, "symbolType": "stroke", "symbolSize": 70, "symbolStrokeWidth": 2.5, "labelFont": "Lato", "labelFontSize": 16, "labelColor": "#000", "strokeColor": "#000", "fillColor": "#fff", "padding": 4, "rowPadding": 2, "labelOffset": 2}}}},
    {"data": {"values": [{"alt":12.5,"top":13.2},{"alt":3.75,"top":5.9},{"alt":2.05,"top":2.7}]}, "mark": {"type": "rect", "color": "#d42a2a", "opacity": 0.5},
     "encoding": {"y": {"field": "alt", "type": "quantitative"}, "y2": {"field": "top"}}},
    {"data": {"values": [{"alt":7.45,"top":8.55}]}, "mark": {"type": "rect", "color": "#444444", "opacity": 0.5},
     "encoding": {"y": {"field": "alt", "type": "quantitative"}, "y2": {"field": "top"}}},
    {"data": {"values": [{"v":63.2,"v2":87.9,"alt":12.5,"top":15.41}]}, "mark": {"type": "rect", "fill": "white", "stroke": "black", "strokeWidth": 2.5},
     "encoding": {"x": {"field": "v", "type": "quantitative"}, "x2": {"field": "v2"}, "y": {"field": "alt", "type": "quantitative"}, "y2": {"field": "top"}}},
    {"data": {"values": [{"v":75.5,"alt":13.95,"t":"h"}]}, "mark": {"type": "text", "fontSize": 30, "baseline": "middle"},
     "encoding": {"x": {"field": "v", "type": "quantitative"}, "y": {"field": "alt", "type": "quantitative"}, "text": {"field": "t"}}},
    {"data": {"values": [{"v":160.9,"alt":5.3,"t":"EW, 02, 1945z"}]}, "mark": {"type": "text", "fontSize": 15, "baseline": "middle"},
     "encoding": {"x": {"field": "v", "type": "quantitative"}, "y": {"field": "alt", "type": "quantitative"}, "text": {"field": "t"}}}
  ]},
  {"data": {"values": [{"alt":0,"v":301},{"alt":2.0,"v":303},{"alt":3,"v":307.4},{"alt":4,"v":311},{"alt":5,"v":314.8},{"alt":6,"v":319.8},{"alt":7,"v":323.5},{"alt":8,"v":327},{"alt":9,"v":331},{"alt":10,"v":333.3},{"alt":11,"v":337},{"alt":12,"v":340.7},{"alt":13,"v":345.7},{"alt":14,"v":354.3},{"alt":15,"v":376.5},{"alt":15.9,"v":400}]},
   "mark": {"type": "line", "color": "#e8262a", "strokeWidth": 1.5, "clip": true},
   "encoding": {"x": {"field": "v", "type": "quantitative", "scale": {"domain": [280,400], "nice": false, "zero": false}, "axis": {"orient": "top", "title": "Potential Temperature (K)", "values": [280,300,320,340,360,380,400], "labelColor": "#e8262a", "titleColor": "#e8262a", "domainColor": "#e8262a"}},
                "y": {"field": "alt", "type": "quantitative", "scale": {"domain": [0,16], "nice": false, "zero": false}, "axis": {"orient": "right", "title": "Altitude (km)", "values": [0,2,4,6,8,10,12,14,16]}},
                "order": {"field": "alt", "type": "quantitative"}}}
 ]},
{"width": 323, "height": 227, "resolve": {"scale": {"x": "independent", "y": "independent"}},
 "layer": [
  {"layer": [
    {"data": {"values": [{"alt":1.75,"v":166},{"alt":1.74,"v":169},{"alt":1.73,"v":171},{"alt":1.72,"v":165},{"alt":1.7,"v":163},{"alt":1.65,"v":166},{"alt":1.6,"v":163},{"alt":1.55,"v":161},{"alt":1.52,"v":160},{"alt":1.5,"v":158},{"alt":1.47,"v":156},{"alt":1.45,"v":154},{"alt":1.43,"v":153},{"alt":1.58,"v":165},{"alt":1.62,"v":167},{"alt":1.25,"v":160},{"alt":1.23,"v":163},{"alt":1.21,"v":166},{"alt":1.18,"v":162},{"alt":1.15,"v":164},{"alt":1.12,"v":161},{"alt":1.1,"v":158},{"alt":1.08,"v":156},{"alt":1.06,"v":154},{"alt":1.03,"v":165},{"alt":1.02,"v":168},{"alt":1.01,"v":170},{"alt":1.0,"v":167},{"alt":0.98,"v":167},{"alt":0.95,"v":166},{"alt":0.92,"v":168},{"alt":0.9,"v":167},{"alt":0.87,"v":166},{"alt":0.85,"v":165},{"alt":0.8,"v":161},{"alt":0.78,"v":159},{"alt":0.75,"v":162},{"alt":0.73,"v":160},{"alt":0.7,"v":158},{"alt":0.68,"v":165},{"alt":0.66,"v":164},{"alt":0.64,"v":167},{"alt":0.62,"v":163},{"alt":0.6,"v":165},{"alt":0.58,"v":162},{"alt":0.56,"v":166},{"alt":0.53,"v":163},{"alt":0.52,"v":170},{"alt":0.5,"v":160},{"alt":0.48,"v":164},{"alt":0.46,"v":166},{"alt":0.45,"v":158},{"alt":0.43,"v":155},{"alt":0.4,"v":165},{"alt":0.38,"v":164},{"alt":0.65,"v":157},{"alt":0.55,"v":159}]},
     "mark": {"type": "circle", "size": 26, "opacity": 1, "clip": true},
     "encoding": {"x": {"field": "v", "type": "quantitative", "scale": {"domain": [80,180], "nice": false, "zero": false}, "axis": {"title": "P-3 CO, P-3 O ₃, Sonde O₃ (ppbv)", "values": [80,100,120,140,160,180]}},
                  "y": {"field": "alt", "type": "quantitative", "scale": {"domain": [0,2], "nice": false, "zero": false}, "axis": {"title": "Altitude (km)", "values": [0,0.5,1,1.5,2]}},
                  "color": {"datum": "P-3 CO", "scale": {"domain": ["Sonde O₃","P-3 NOᵧ","P-3 O₃","P-3 CO"], "range": ["#141414","#e8262a","#8a8a8a","#1f4ea6"]},
                            "legend": {"title": null, "orient": "none", "legendX": 93, "legendY": 186, "columns": 2, "symbolType": "circle", "symbolSize": 80, "symbolOpacity": 1, "labelFont": "Lato", "labelFontSize": 12, "labelColor": "#000", "strokeColor": "#000", "fillColor": "#fff", "padding": 3, "rowPadding": 1, "columnPadding": 2, "labelOffset": 1}}}},
    {"data": {"values": [{"alt":0.38,"v":88},{"alt":0.45,"v":89},{"alt":0.5,"v":87.5},{"alt":0.55,"v":88.5},{"alt":0.6,"v":89},{"alt":0.65,"v":88},{"alt":0.7,"v":87},{"alt":0.75,"v":86.5},{"alt":0.8,"v":87.5},{"alt":0.85,"v":88.5},{"alt":0.9,"v":87.5},{"alt":0.95,"v":88},{"alt":1.0,"v":89},{"alt":1.05,"v":87.5},{"alt":1.1,"v":88.5},{"alt":1.15,"v":87},{"alt":1.2,"v":88},{"alt":1.25,"v":87.5},{"alt":1.3,"v":88.5},{"alt":1.35,"v":87.5},{"alt":1.4,"v":86.5},{"alt":1.45,"v":86},{"alt":1.5,"v":86.5},{"alt":1.55,"v":87},{"alt":1.6,"v":87.5},{"alt":1.65,"v":88},{"alt":1.7,"v":88.5},{"alt":1.74,"v":88}]},
     "mark": {"type": "line", "color": "#8a8a8a", "strokeWidth": 4.5, "strokeCap": "round", "strokeJoin": "round", "clip": true},
     "encoding": {"x": {"field": "v", "type": "quantitative"}, "y": {"field": "alt", "type": "quantitative"}, "order": {"field": "alt", "type": "quantitative"}}},
    {"data": {"values": [{"alt":0.05,"v":85.8},{"alt":0.1,"v":86.9},{"alt":0.2,"v":88.4},{"alt":0.3,"v":89.4},{"alt":0.4,"v":89.9},{"alt":0.5,"v":89.4},{"alt":0.6,"v":89.7},{"alt":0.7,"v":91},{"alt":0.8,"v":91.5},{"alt":0.9,"v":92.5},{"alt":1.0,"v":92.8},{"alt":1.1,"v":91.5},{"alt":1.2,"v":91.5},{"alt":1.4,"v":91.5},{"alt":1.5,"v":92},{"alt":1.6,"v":92.5},{"alt":1.74,"v":93.2}]},
     "mark": {"type": "line", "color": "#141414", "strokeWidth": 5, "strokeCap": "round", "strokeJoin": "round", "clip": true},
     "encoding": {"x": {"field": "v", "type": "quantitative"}, "y": {"field": "alt", "type": "quantitative"}, "order": {"field": "alt", "type": "quantitative"}}},
    {"data": {"values": [{"v":95.4,"v2":107.6,"alt":0.074,"top":0.415}]}, "mark": {"type": "rect", "fill": "white", "stroke": "black", "strokeWidth": 2.5},
     "encoding": {"x": {"field": "v", "type": "quantitative"}, "x2": {"field": "v2"}, "y": {"field": "alt", "type": "quantitative"}, "y2": {"field": "top"}}},
    {"data": {"values": [{"v":101.5,"alt":0.245,"t":"i"}]}, "mark": {"type": "text", "fontSize": 30, "baseline": "middle"},
     "encoding": {"x": {"field": "v", "type": "quantitative"}, "y": {"field": "alt", "type": "quantitative"}, "text": {"field": "t"}}},
    {"data": {"values": [{"v":163,"alt":0.178,"t":"BV, 02, 1850z"}]}, "mark": {"type": "text", "fontSize": 15, "baseline": "middle"},
     "encoding": {"x": {"field": "v", "type": "quantitative"}, "y": {"field": "alt", "type": "quantitative"}, "text": {"field": "t"}}}
  ]},
  {"data": {"values": [{"alt":1.74,"v":3.72},{"alt":1.74,"v":3.85},{"alt":1.74,"v":3.95},{"alt":1.74,"v":4.05},{"alt":1.74,"v":4.15},{"alt":1.74,"v":4.25},{"alt":1.73,"v":4.3},{"alt":1.74,"v":4.35},{"alt":1.74,"v":4.45},{"alt":1.74,"v":4.55},{"alt":1.74,"v":4.7},{"alt":1.74,"v":4.1},{"alt":1.73,"v":4.2},{"alt":1.66,"v":3.95},{"alt":1.64,"v":4.1},{"alt":1.62,"v":4.2},{"alt":1.6,"v":4.05},{"alt":1.58,"v":3.9},{"alt":1.56,"v":3.45},{"alt":1.55,"v":3.65},{"alt":1.52,"v":3.95},{"alt":1.5,"v":4.05},{"alt":1.48,"v":4.2},{"alt":1.45,"v":3.9},{"alt":1.43,"v":3.6},{"alt":1.42,"v":3.42},{"alt":1.42,"v":3.1},{"alt":1.44,"v":3.3},{"alt":1.4,"v":4.0},{"alt":1.38,"v":3.97},{"alt":1.6,"v":4.25},{"alt":1.55,"v":4.0},{"alt":1.35,"v":3.95},{"alt":1.33,"v":4.3},{"alt":1.32,"v":4.45},{"alt":1.33,"v":4.5},{"alt":1.3,"v":4.1},{"alt":1.28,"v":3.9},{"alt":1.27,"v":4.02},{"alt":1.25,"v":4.18},{"alt":1.22,"v":4.25},{"alt":1.21,"v":4.3},{"alt":1.2,"v":4.4},{"alt":1.23,"v":4.5},{"alt":1.15,"v":4.1},{"alt":1.12,"v":4.2},{"alt":1.08,"v":4.3},{"alt":1.06,"v":4.05},{"alt":1.05,"v":3.95},{"alt":1.02,"v":3.92},{"alt":1.0,"v":4.2},{"alt":1.08,"v":4.45},{"alt":1.05,"v":4.62},{"alt":1.02,"v":4.62},{"alt":1.0,"v":4.75},{"alt":1.04,"v":4.9},{"alt":1.03,"v":4.95},{"alt":0.98,"v":4.4},{"alt":0.95,"v":4.5},{"alt":0.92,"v":4.35},{"alt":0.9,"v":4.6},{"alt":0.88,"v":4.48},{"alt":0.85,"v":4.65},{"alt":0.85,"v":4.85},{"alt":0.82,"v":4.55},{"alt":0.8,"v":4.3},{"alt":0.8,"v":4.2},{"alt":0.78,"v":4.1},{"alt":0.75,"v":4.0},{"alt":0.73,"v":4.1},{"alt":0.7,"v":3.9},{"alt":0.7,"v":3.55},{"alt":0.72,"v":4.45},{"alt":0.7,"v":4.6},{"alt":0.68,"v":4.2},{"alt":0.66,"v":4.4},{"alt":0.65,"v":4.7},{"alt":0.62,"v":4.5},{"alt":0.6,"v":4.8},{"alt":0.58,"v":4.6},{"alt":0.56,"v":4.9},{"alt":0.55,"v":4.3},{"alt":0.52,"v":4.75},{"alt":0.5,"v":4.55},{"alt":0.5,"v":4.95},{"alt":0.48,"v":4.65},{"alt":0.47,"v":4.85},{"alt":0.45,"v":5.0},{"alt":0.45,"v":4.3},{"alt":0.42,"v":4.7},{"alt":0.4,"v":4.9},{"alt":0.5,"v":5.2},{"alt":0.52,"v":5.45},{"alt":0.47,"v":5.3},{"alt":0.55,"v":5.1},{"alt":0.6,"v":5.05},{"alt":0.7,"v":4.95},{"alt":0.47,"v":4.1},{"alt":0.52,"v":3.7}]},
   "mark": {"type": "circle", "size": 26, "opacity": 1, "clip": true},
   "encoding": {"x": {"field": "v", "type": "quantitative", "scale": {"domain": [3,5.5], "nice": false, "zero": false}, "axis": {"orient": "top", "title": "P-3 NOᵧ (ppbv)", "values": [3,3.5,4,4.5,5,5.5], "labelColor": "#e8262a", "titleColor": "#e8262a", "domainColor": "#e8262a"}},
                "y": {"field": "alt", "type": "quantitative", "scale": {"domain": [0,2], "nice": false, "zero": false}, "axis": {"orient": "right", "title": null, "values": [0,0.5,1,1.5,2]}},
                "color": {"datum": "P-3 NOᵧ"}}}
 ]},
{"width": 323, "height": 227, "resolve": {"scale": {"x": "independent", "y": "independent"}},
 "layer": [
  {"layer": [
    {"data": {"values": [{"alt":3.32,"v":153},{"alt":3.1,"v":147},{"alt":3.05,"v":149},{"alt":3.0,"v":145},{"alt":2.9,"v":142},{"alt":2.8,"v":140},{"alt":2.7,"v":138},{"alt":2.6,"v":137},{"alt":2.5,"v":137},{"alt":2.4,"v":138},{"alt":2.3,"v":140},{"alt":2.25,"v":136},{"alt":2.2,"v":133},{"alt":2.9,"v":137},{"alt":2.75,"v":135},{"alt":2.15,"v":115},{"alt":2.15,"v":120},{"alt":2.14,"v":125},{"alt":2.1,"v":130},{"alt":2.08,"v":138},{"alt":2.05,"v":145},{"alt":2.02,"v":150},{"alt":1.98,"v":155},{"alt":1.95,"v":158},{"alt":1.9,"v":160},{"alt":1.8,"v":158},{"alt":1.7,"v":160},{"alt":1.6,"v":158},{"alt":1.5,"v":160},{"alt":1.4,"v":162},{"alt":1.35,"v":163},{"alt":1.2,"v":175},{"alt":1.15,"v":178},{"alt":1.1,"v":180},{"alt":1.05,"v":177},{"alt":1.0,"v":175},{"alt":0.95,"v":178},{"alt":0.9,"v":174},{"alt":0.85,"v":170},{"alt":0.8,"v":172},{"alt":0.78,"v":185},{"alt":0.75,"v":190},{"alt":0.7,"v":195},{"alt":0.65,"v":198},{"alt":0.6,"v":196},{"alt":0.55,"v":194},{"alt":0.5,"v":197},{"alt":0.48,"v":200},{"alt":0.45,"v":203}]},
     "mark": {"type": "circle", "size": 26, "opacity": 1, "clip": true},
     "encoding": {"x": {"field": "v", "type": "quantitative", "scale": {"domain": [50,250], "nice": false, "zero": false}, "axis": {"title": "P-3 CO, P-3 O ₃, Sonde O₃ (ppbv)", "values": [50,100,150,200,250]}},
                  "y": {"field": "alt", "type": "quantitative", "scale": {"domain": [0,3.5], "nice": false, "zero": false}, "axis": {"title": null, "values": [0,0.5,1,1.5,2,2.5,3,3.5]}},
                  "color": {"datum": "P-3 CO", "scale": {"domain": ["Sonde O₃","P-3 NOᵧ","P-3 O₃","P-3 CO"], "range": ["#141414","#e8262a","#8a8a8a","#1f4ea6"]},
                            "legend": {"title": null, "orient": "none", "legendX": 200, "legendY": 5, "columns": 2, "symbolType": "circle", "symbolSize": 80, "symbolOpacity": 1, "labelFont": "Lato", "labelFontSize": 12, "labelColor": "#000", "strokeColor": "#000", "fillColor": "#fff", "padding": 3, "rowPadding": 1, "columnPadding": 2, "labelOffset": 1}}}},
    {"data": {"values": [{"alt":0.45,"v":112},{"alt":0.5,"v":108},{"alt":0.6,"v":103},{"alt":0.7,"v":98},{"alt":0.8,"v":94},{"alt":0.85,"v":90},{"alt":0.9,"v":92},{"alt":1.0,"v":97},{"alt":1.1,"v":94},{"alt":1.2,"v":91},{"alt":1.4,"v":88},{"alt":1.6,"v":86},{"alt":1.8,"v":84},{"alt":2.0,"v":82},{"alt":2.1,"v":78},{"alt":2.18,"v":70},{"alt":2.3,"v":68},{"alt":2.6,"v":68},{"alt":2.9,"v":69},{"alt":3.1,"v":70},{"alt":3.3,"v":71}]},
     "mark": {"type": "line", "color": "#8a8a8a", "strokeWidth": 4.5, "strokeCap": "round", "strokeJoin": "round", "clip": true},
     "encoding": {"x": {"field": "v", "type": "quantitative"}, "y": {"field": "alt", "type": "quantitative"}, "order": {"field": "alt", "type": "quantitative"}}},
    {"data": {"values": [{"alt":0,"v":114},{"alt":0.1,"v":109},{"alt":0.2,"v":107},{"alt":0.4,"v":105},{"alt":0.6,"v":104},{"alt":0.7,"v":109},{"alt":0.8,"v":103},{"alt":0.9,"v":98.5},{"alt":1.0,"v":95.5},{"alt":1.2,"v":93},{"alt":1.4,"v":90},{"alt":1.6,"v":88},{"alt":1.8,"v":85},{"alt":2.0,"v":84},{"alt":2.1,"v":78},{"alt":2.2,"v":70.7},{"alt":2.5,"v":69.6},{"alt":2.8,"v":69},{"alt":3.0,"v":70.7},{"alt":3.2,"v":71.7},{"alt":3.3,"v":69.6}]},
     "mark": {"type": "line", "color": "#141414", "strokeWidth": 5, "strokeCap": "round", "strokeJoin": "round", "clip": true},
     "encoding": {"x": {"field": "v", "type": "quantitative"}, "y": {"field": "alt", "type": "quantitative"}, "order": {"field": "alt", "type": "quantitative"}}},
    {"data": {"values": [{"v":224.6,"v2":244.2,"alt":1.77,"top":2.34}]}, "mark": {"type": "rect", "fill": "white", "stroke": "black", "strokeWidth": 2.5},
     "encoding": {"x": {"field": "v", "type": "quantitative"}, "x2": {"field": "v2"}, "y": {"field": "alt", "type": "quantitative"}, "y2": {"field": "top"}}},
    {"data": {"values": [{"v":234.4,"alt":2.055,"t":"j"}]}, "mark": {"type": "text", "fontSize": 30, "baseline": "middle"},
     "encoding": {"x": {"field": "v", "type": "quantitative"}, "y": {"field": "alt", "type": "quantitative"}, "text": {"field": "t"}}},
    {"data": {"values": [{"v":216.3,"alt":2.7,"t":"EW, 02, 1945z"}]}, "mark": {"type": "text", "fontSize": 15, "baseline": "middle"},
     "encoding": {"x": {"field": "v", "type": "quantitative"}, "y": {"field": "alt", "type": "quantitative"}, "text": {"field": "t"}}}
  ]},
  {"data": {"values": [{"alt":3.3,"v":1.1},{"alt":3.2,"v":1.05},{"alt":3.1,"v":1.0},{"alt":3.0,"v":1.0},{"alt":2.9,"v":0.95},{"alt":2.8,"v":0.9},{"alt":2.7,"v":0.85},{"alt":2.6,"v":0.85},{"alt":2.5,"v":0.8},{"alt":2.4,"v":0.85},{"alt":2.3,"v":0.9},{"alt":2.2,"v":0.8},{"alt":2.15,"v":0.7},{"alt":2.15,"v":0.95},{"alt":2.1,"v":1.2},{"alt":2.09,"v":1.5},{"alt":2.05,"v":1.7},{"alt":2.03,"v":2.0},{"alt":2.02,"v":2.3},{"alt":2.0,"v":2.6},{"alt":1.98,"v":2.9},{"alt":1.96,"v":3.3},{"alt":1.95,"v":3.6},{"alt":1.9,"v":3.2},{"alt":1.85,"v":3.1},{"alt":1.8,"v":3.3},{"alt":1.75,"v":3.0},{"alt":1.7,"v":3.2},{"alt":1.65,"v":3.4},{"alt":1.6,"v":3.1},{"alt":1.55,"v":3.3},{"alt":1.5,"v":3.2},{"alt":1.45,"v":3.5},{"alt":1.4,"v":3.7},{"alt":1.35,"v":4.1},{"alt":1.32,"v":4.6},{"alt":1.3,"v":5.0},{"alt":1.25,"v":5.3},{"alt":1.22,"v":5.6},{"alt":1.2,"v":5.5},{"alt":1.18,"v":5.8},{"alt":1.1,"v":5.6},{"alt":1.08,"v":6.0},{"alt":1.05,"v":6.3},{"alt":1.02,"v":6.6},{"alt":1.0,"v":6.8},{"alt":0.98,"v":6.4},{"alt":0.95,"v":5.8},{"alt":0.92,"v":5.3},{"alt":0.9,"v":4.8},{"alt":0.87,"v":4.5},{"alt":0.85,"v":4.2},{"alt":0.87,"v":5.8},{"alt":0.8,"v":7.2},{"alt":0.75,"v":7.4},{"alt":0.7,"v":7.3},{"alt":0.65,"v":7.6},{"alt":0.6,"v":7.4},{"alt":0.55,"v":7.7},{"alt":0.5,"v":7.8},{"alt":0.48,"v":8.2},{"alt":0.47,"v":8.6},{"alt":0.46,"v":8.9},{"alt":0.49,"v":7.0},{"alt":0.47,"v":6.8},{"alt":0.62,"v":8.3},{"alt":0.65,"v":8.5},{"alt":0.63,"v":8.0}]},
   "mark": {"type": "circle", "size": 26, "opacity": 1, "clip": true},
   "encoding": {"x": {"field": "v", "type": "quantitative", "scale": {"domain": [0,10], "nice": false, "zero": false}, "axis": {"orient": "top", "title": "P-3 NOᵧ (ppbv)", "values": [0,2,4,6,8,10], "labelColor": "#e8262a", "titleColor": "#e8262a", "domainColor": "#e8262a"}},
                "y": {"field": "alt", "type": "quantitative", "scale": {"domain": [0,3.5], "nice": false, "zero": false}, "axis": {"orient": "right", "title": "Altitude (km)", "values": [0,0.5,1,1.5,2,2.5,3,3.5]}},
                "color": {"datum": "P-3 NOᵧ"}}}
 ]}
]
}
